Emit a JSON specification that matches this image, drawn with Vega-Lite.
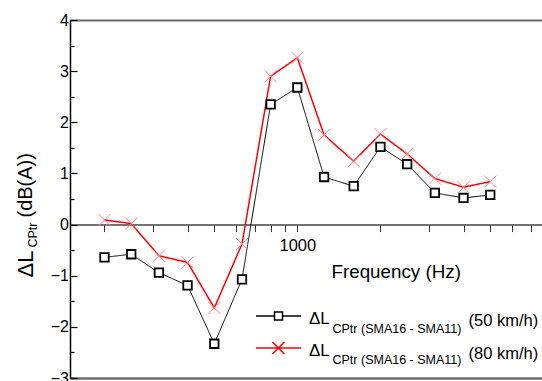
{
  "$schema": "https://vega.github.io/schema/vega-lite/v6.json",
  "width": 472,
  "height": 358,
  "autosize": {"type": "none"},
  "padding": {"left": 70, "top": 20, "right": 0, "bottom": 3},
  "background": "white",
  "config": {
    "view": {"stroke": null},
    "font": "Liberation Sans",
    "axis": {"grid": false, "labelFont": "Liberation Sans", "titleFont": "Liberation Sans", "labelFlush": false, "labelOverlap": false, "titleFontWeight": "normal", "titleColor": "black", "labelColor": "black"},
    "legend": {"labelFont": "Liberation Sans", "labelColor": "black", "padding": 0}
  },
  "datasets": {
    "d": [
      {"f": 200, "dL": -0.64, "series": "50 km/h", "sub": "CPtr 50", "speed": "(50 km/h)"},
      {"f": 250, "dL": -0.58, "series": "50 km/h", "sub": "CPtr 50", "speed": "(50 km/h)"},
      {"f": 315, "dL": -0.94, "series": "50 km/h", "sub": "CPtr 50", "speed": "(50 km/h)"},
      {"f": 400, "dL": -1.19, "series": "50 km/h", "sub": "CPtr 50", "speed": "(50 km/h)"},
      {"f": 500, "dL": -2.33, "series": "50 km/h", "sub": "CPtr 50", "speed": "(50 km/h)"},
      {"f": 630, "dL": -1.07, "series": "50 km/h", "sub": "CPtr 50", "speed": "(50 km/h)"},
      {"f": 800, "dL": 2.35, "series": "50 km/h", "sub": "CPtr 50", "speed": "(50 km/h)"},
      {"f": 1000, "dL": 2.68, "series": "50 km/h", "sub": "CPtr 50", "speed": "(50 km/h)"},
      {"f": 1250, "dL": 0.93, "series": "50 km/h", "sub": "CPtr 50", "speed": "(50 km/h)"},
      {"f": 1600, "dL": 0.75, "series": "50 km/h", "sub": "CPtr 50", "speed": "(50 km/h)"},
      {"f": 2000, "dL": 1.52, "series": "50 km/h", "sub": "CPtr 50", "speed": "(50 km/h)"},
      {"f": 2500, "dL": 1.18, "series": "50 km/h", "sub": "CPtr 50", "speed": "(50 km/h)"},
      {"f": 3150, "dL": 0.62, "series": "50 km/h", "sub": "CPtr 50", "speed": "(50 km/h)"},
      {"f": 4000, "dL": 0.52, "series": "50 km/h", "sub": "CPtr 50", "speed": "(50 km/h)"},
      {"f": 5000, "dL": 0.58, "series": "50 km/h", "sub": "CPtr 50", "speed": "(50 km/h)"},
      {"f": 200, "dL": 0.09, "series": "80 km/h", "sub": "CPtr 80", "speed": "(80 km/h)"},
      {"f": 250, "dL": 0.02, "series": "80 km/h", "sub": "CPtr 80", "speed": "(80 km/h)"},
      {"f": 315, "dL": -0.61, "series": "80 km/h", "sub": "CPtr 80", "speed": "(80 km/h)"},
      {"f": 400, "dL": -0.74, "series": "80 km/h", "sub": "CPtr 80", "speed": "(80 km/h)"},
      {"f": 500, "dL": -1.63, "series": "80 km/h", "sub": "CPtr 80", "speed": "(80 km/h)"},
      {"f": 630, "dL": -0.38, "series": "80 km/h", "sub": "CPtr 80", "speed": "(80 km/h)"},
      {"f": 800, "dL": 2.9, "series": "80 km/h", "sub": "CPtr 80", "speed": "(80 km/h)"},
      {"f": 1000, "dL": 3.26, "series": "80 km/h", "sub": "CPtr 80", "speed": "(80 km/h)"},
      {"f": 1250, "dL": 1.75, "series": "80 km/h", "sub": "CPtr 80", "speed": "(80 km/h)"},
      {"f": 1600, "dL": 1.24, "series": "80 km/h", "sub": "CPtr 80", "speed": "(80 km/h)"},
      {"f": 2000, "dL": 1.77, "series": "80 km/h", "sub": "CPtr 80", "speed": "(80 km/h)"},
      {"f": 2500, "dL": 1.38, "series": "80 km/h", "sub": "CPtr 80", "speed": "(80 km/h)"},
      {"f": 3150, "dL": 0.9, "series": "80 km/h", "sub": "CPtr 80", "speed": "(80 km/h)"},
      {"f": 4000, "dL": 0.73, "series": "80 km/h", "sub": "CPtr 80", "speed": "(80 km/h)"},
      {"f": 5000, "dL": 0.84, "series": "80 km/h", "sub": "CPtr 80", "speed": "(80 km/h)"}
    ]
  },
  "data": {"name": "d"},
  "layer": [
    {
      "mark": {"type": "line"},
      "encoding": {
        "x": {
          "field": "f", "type": "quantitative",
          "scale": {"type": "log", "domain": [150, 7700], "nice": false},
          "axis": {
            "orient": "bottom", "offset": -153.43,
            "values": [200, 300, 400, 500, 600, 700, 800, 900, 1000, 2000, 3000, 4000, 5000, 6000, 7000],
            "labelExpr": "datum.value == 1000 ? '1000' : ''",
            "labelFontSize": 16.5, "labelPadding": 6,
            "tickSize": 7, "tickColor": "#333", "tickWidth": 1,
            "domainColor": "#444", "domainWidth": 1.5,
            "encode": {"ticks": {"update": {"y": {"signal": "datum.value == 1000 ? -6.5 : -3.3"}, "y2": {"signal": "datum.value == 1000 ? 7 : 4.7"}}}},
            "title": "Frequency (Hz)", "titleFontSize": 18.8,
            "titleX": 261, "titleY": 52.7, "titleAlign": "left", "titleBaseline": "alphabetic", "titleAnchor": null
          }
        },
        "y": {
          "field": "dL", "type": "quantitative",
          "scale": {"domain": [-3, 4], "nice": false, "zero": false},
          "axis": {
            "orient": "left", "values": [-3, -2, -1, 0, 1, 2, 3, 4],
            "tickSize": -7, "tickColor": "black", "tickWidth": 1.2,
            "domainColor": "black", "domainWidth": 1.5,
            "labelFontSize": 16, "labelPadding": 8.5,
            "title": "ΔL", "titleFontSize": 22, "titleX": -38, "titleY": 257, "titleAngle": -90,
            "titleAlign": "left", "titleBaseline": "alphabetic"
          }
        },
        "color": {
          "field": "series", "type": "nominal",
          "scale": {"domain": ["50 km/h", "80 km/h"], "range": ["black", "#ff0000"]},
          "legend": {
            "orient": "none", "legendX": 200, "legendY": 287.5, "title": null,
            "labelExpr": "'ΔL'", "labelFontSize": 17, "labelOffset": 22,
            "symbolSize": 100, "symbolStrokeWidth": 1.5, "rowPadding": 11,
            "encode": {
              "symbols": {"update": {
                "shape": {"signal": "datum.value == '50 km/h' ? 'M-4.5,0H-0.8M0.8,0H4.5M-0.8,-0.8H0.8V0.8H-0.8Z' : 'M-4.5,0H4.5M-1.2,-1.2L1.2,1.2M-1.2,1.2L1.2,-1.2'"},
                "fill": {"value": "transparent"}
              }},
              "labels": {"update": {"dy": {"value": 3}}}
            }
          }
        },
        "strokeDash": {
          "field": "sub", "type": "nominal",
          "scale": {"range": [[1, 0], [1, 0]]},
          "legend": {
            "orient": "none", "legendX": 250, "legendY": 302.75, "title": null,
            "labelExpr": "'CPtr (SMA16 - SMA11)'", "labelFontSize": 12.5, "labelOffset": 0,
            "symbolSize": 1, "symbolOpacity": 0, "symbolStrokeWidth": 0, "rowPadding": 17.5
          }
        },
        "strokeWidth": {
          "field": "speed", "type": "ordinal",
          "scale": {"range": [1, 1.5]},
          "legend": {
            "orient": "none", "legendX": 382, "legendY": 289.5, "title": null,
            "labelFontSize": 16.5, "labelOffset": 0,
            "symbolSize": 1, "symbolOpacity": 0, "symbolStrokeWidth": 0, "rowPadding": 13,
            "encode": {"labels": {"update": {"dy": {"value": 3}}}}
          }
        }
      }
    },
    {
      "transform": [{"filter": "datum.series == '50 km/h'"}],
      "mark": {"type": "point", "shape": "square", "size": 72, "filled": true, "fill": "white", "stroke": "black", "strokeWidth": 1.8, "opacity": 1},
      "encoding": {
        "x": {
          "field": "f", "type": "quantitative",
          "scale": {"type": "log", "domain": [150, 7700], "nice": false},
          "axis": {"orient": "top", "ticks": false, "labels": false, "title": null, "domainColor": "#6e6e6e", "domainWidth": 2}
        },
        "y": {
          "field": "dL", "type": "quantitative",
          "scale": {"domain": [-3, 4], "nice": false, "zero": false},
          "axis": {
            "orient": "left", "values": [-2.5, -1.5, -0.5, 0.5, 1.5, 2.5, 3.5],
            "tickSize": -4, "tickColor": "black", "tickWidth": 1.2,
            "labels": false, "domain": false,
            "title": "CPtr", "titleFontSize": 12.5, "titleX": -33.3, "titleY": 227, "titleAngle": -90,
            "titleAlign": "left", "titleBaseline": "alphabetic"
          }
        }
      }
    },
    {
      "transform": [{"filter": "datum.series == '80 km/h'"}],
      "mark": {"type": "point", "shape": "M-1,-1L1,1M-1,1L1,-1", "size": 144, "filled": false, "stroke": "#ff8080", "strokeWidth": 1, "opacity": 1},
      "encoding": {
        "x": {
          "field": "f", "type": "quantitative",
          "scale": {"type": "log", "domain": [150, 7700], "nice": false},
          "axis": {"orient": "bottom", "ticks": false, "labels": false, "title": null, "domainColor": "#6e6e6e", "domainWidth": 2.5}
        },
        "y": {
          "field": "dL", "type": "quantitative",
          "scale": {"domain": [-3, 4], "nice": false, "zero": false},
          "axis": {
            "orient": "left", "ticks": false, "labels": false, "domain": false,
            "title": "(dB(A))", "titleFontSize": 20, "titleX": -39, "titleY": 197, "titleAngle": -90,
            "titleAlign": "left", "titleBaseline": "alphabetic"
          }
        }
      }
    }
  ],
  "resolve": {"axis": {"x": "independent", "y": "independent"}}
}
